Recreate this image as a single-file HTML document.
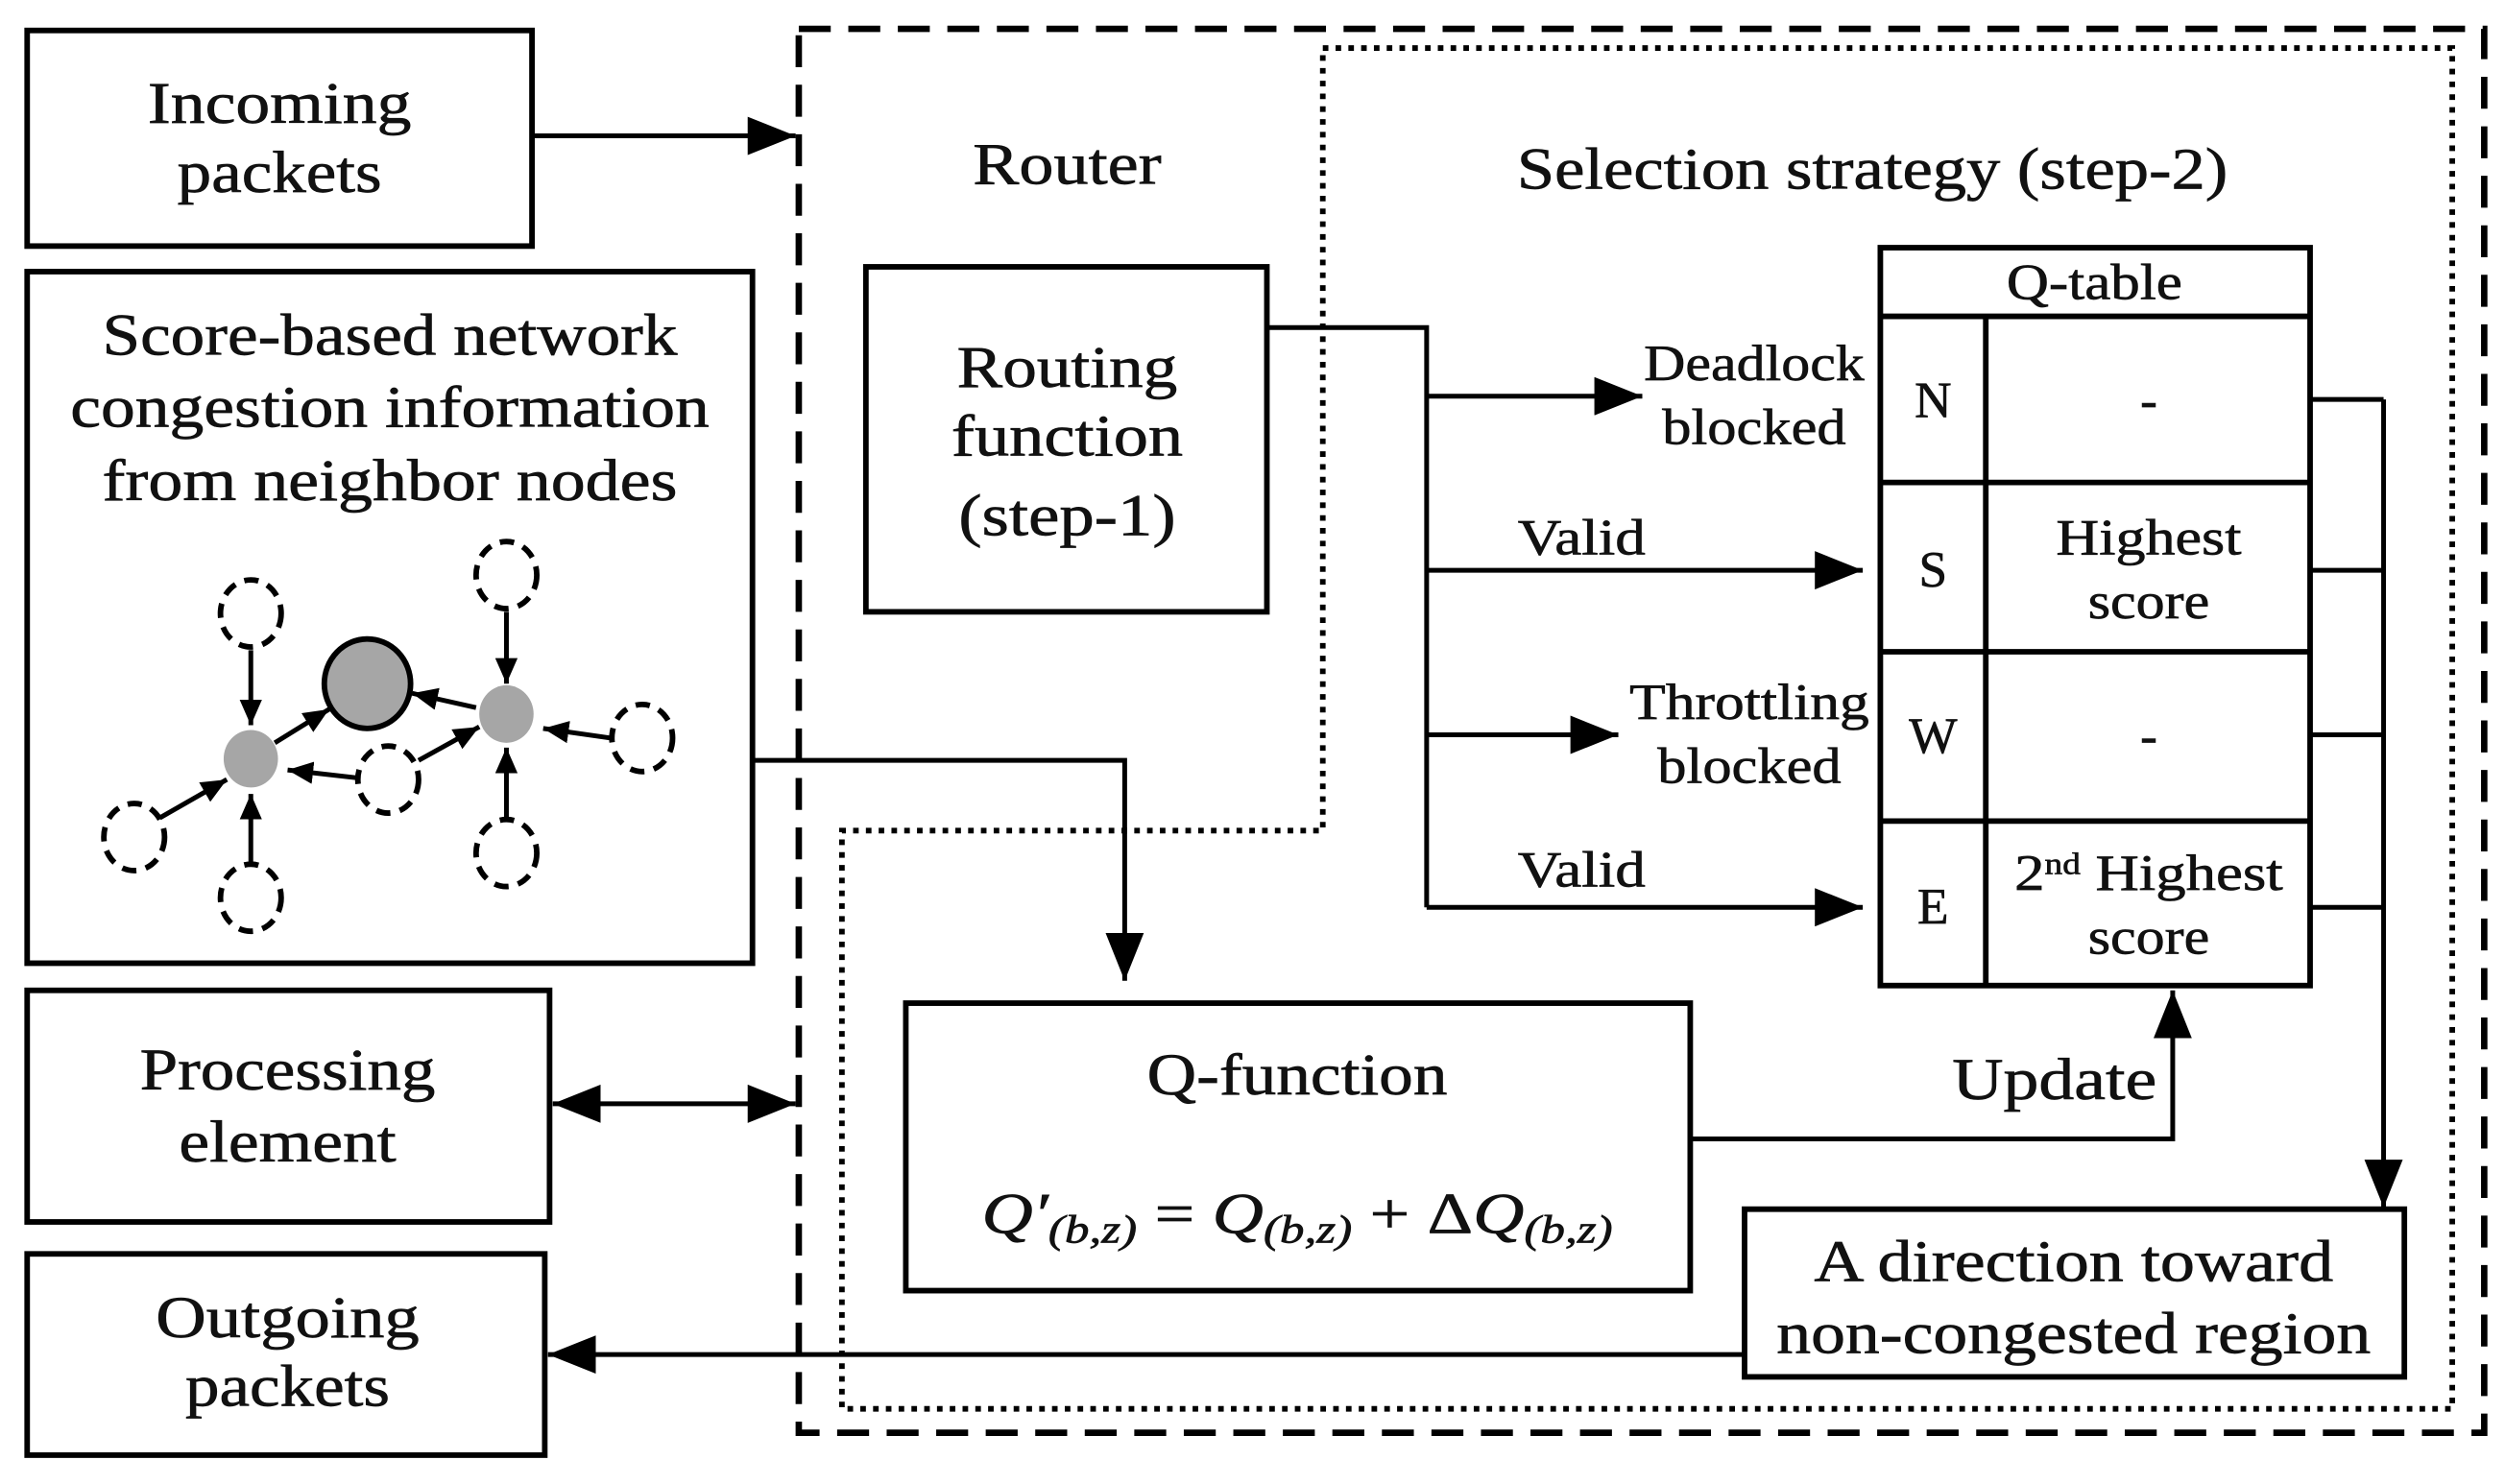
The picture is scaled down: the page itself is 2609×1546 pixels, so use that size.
<!DOCTYPE html>
<html><head><meta charset="utf-8"><style>
html,body{margin:0;padding:0;background:#fff;}
svg{display:block;}
text{font-family:"Liberation Serif",serif;fill:#111;stroke:#111;stroke-width:0.4;}
</style></head><body>
<svg width="2609" height="1546" viewBox="0 0 1568 929" xmlns="http://www.w3.org/2000/svg">
<defs>
<marker id="A" markerWidth="30" markerHeight="24" refX="30" refY="12" orient="auto-start-reverse" markerUnits="userSpaceOnUse">
<path d="M0,0 L30,12 L0,24 z" fill="#000"/></marker>
<marker id="s" markerWidth="16" markerHeight="14" refX="16" refY="7" orient="auto" markerUnits="userSpaceOnUse">
<path d="M0,0 L16,7 L0,14 z" fill="#000"/></marker>
</defs>
<g fill="none" stroke="#000">
<rect x="500" y="18" width="1055" height="879" stroke-width="4" stroke-dasharray="20,11"/>
<path d="M828,30 H1535 V882 H527 V520 H828 Z" stroke-width="3.5" stroke-dasharray="3.5,4.5"/>
<g stroke-width="3.5">
<rect x="17" y="19" width="316" height="135"/>
<rect x="17" y="170" width="454" height="433"/>
<rect x="17" y="620" width="327" height="145"/>
<rect x="17" y="785" width="324" height="126"/>
<rect x="542" y="167" width="251" height="216"/>
<rect x="567" y="628" width="491" height="180"/>
<rect x="1092" y="757" width="413" height="105"/>
<rect x="1177" y="155" width="269" height="462"/>
<path d="M1177,198 H1446 M1177,302 H1446 M1177,408 H1446 M1177,514 H1446 M1243,198 V617"/>
</g>
<g stroke-width="3">
<path d="M333,85 H498" marker-end="url(#A)"/>
<path d="M471,476 H704 V614" marker-end="url(#A)"/>
<path d="M346,691 H498" marker-start="url(#A)" marker-end="url(#A)"/>
<path d="M1092,848 H343" marker-end="url(#A)"/>
<path d="M1058,713 H1360 V620" marker-end="url(#A)"/>
<path d="M793,205 H893 V568"/>
<path d="M893,248 H1028" marker-end="url(#A)"/>
<path d="M893,357 H1166" marker-end="url(#A)"/>
<path d="M893,460 H1013" marker-end="url(#A)"/>
<path d="M893,568 H1166" marker-end="url(#A)"/>
<path d="M1446,250 H1492 M1446,357 H1492 M1446,460 H1492 M1446,568 H1492"/>
<path d="M1492,250 V756" marker-end="url(#A)"/>
</g>
<g stroke-width="3.5" stroke-dasharray="9,6">
<ellipse cx="157" cy="384" rx="19" ry="21"/>
<ellipse cx="317" cy="360" rx="19" ry="21"/>
<ellipse cx="402" cy="462" rx="19" ry="21"/>
<ellipse cx="317" cy="534" rx="19" ry="21"/>
<ellipse cx="243" cy="488" rx="19" ry="21"/>
<ellipse cx="84" cy="524" rx="19" ry="21"/>
<ellipse cx="157" cy="562" rx="19" ry="21"/>
</g>
<ellipse cx="230" cy="428" rx="27" ry="28" fill="#a6a6a6" stroke-width="3.5"/>
<ellipse cx="157" cy="475" rx="17" ry="18" fill="#a6a6a6" stroke="none"/>
<ellipse cx="317" cy="447" rx="17" ry="18" fill="#a6a6a6" stroke="none"/>
<g stroke-width="3">
<path d="M157,407 V454" marker-end="url(#s)"/>
<path d="M317,383 V428" marker-end="url(#s)"/>
<path d="M382,462 L340,456" marker-end="url(#s)"/>
<path d="M317,512 V468" marker-end="url(#s)"/>
<path d="M157,540 V497" marker-end="url(#s)"/>
<path d="M100,512 L142,488" marker-end="url(#s)"/>
<path d="M224,487 L180,482" marker-end="url(#s)"/>
<path d="M262,476 L300,455" marker-end="url(#s)"/>
<path d="M172,465 L206,444" marker-end="url(#s)"/>
<path d="M298,443 L258,434" marker-end="url(#s)"/>
</g>
</g>
<g font-size="37" text-anchor="middle">
<text x="175" y="77" textLength="165" lengthAdjust="spacingAndGlyphs">Incoming</text>
<text x="175" y="120" textLength="128" lengthAdjust="spacingAndGlyphs">packets</text>
<text x="244" y="222" textLength="360" lengthAdjust="spacingAndGlyphs">Score-based network</text>
<text x="244" y="267" textLength="400" lengthAdjust="spacingAndGlyphs">congestion information</text>
<text x="244" y="313" textLength="360" lengthAdjust="spacingAndGlyphs">from neighbor nodes</text>
<text x="180" y="682" textLength="185" lengthAdjust="spacingAndGlyphs">Processing</text>
<text x="180" y="727" textLength="136" lengthAdjust="spacingAndGlyphs">element</text>
<text x="180" y="837" textLength="165" lengthAdjust="spacingAndGlyphs">Outgoing</text>
<text x="180" y="880" textLength="128" lengthAdjust="spacingAndGlyphs">packets</text>
<text x="668" y="115" textLength="118" lengthAdjust="spacingAndGlyphs">Router</text>
<text x="1172" y="118" textLength="445" lengthAdjust="spacingAndGlyphs">Selection strategy (step-2)</text>
<text x="668" y="242" textLength="138" lengthAdjust="spacingAndGlyphs">Routing</text>
<text x="668" y="285" textLength="145" lengthAdjust="spacingAndGlyphs">function</text>
<text x="668" y="335" textLength="136" lengthAdjust="spacingAndGlyphs">(step-1)</text>
<text x="812" y="685" textLength="188" lengthAdjust="spacingAndGlyphs">Q-function</text>
<text x="1298" y="802" textLength="325" lengthAdjust="spacingAndGlyphs">A direction toward</text>
<text x="1298" y="847" textLength="372" lengthAdjust="spacingAndGlyphs">non-congested region</text>
</g>
<text x="1350" y="688" font-size="37" text-anchor="end" textLength="128" lengthAdjust="spacingAndGlyphs">Update</text>
<text x="812" y="772" font-size="36" text-anchor="middle" font-style="italic" textLength="395" lengthAdjust="spacingAndGlyphs">Q′<tspan font-size="25" dy="6">(b,z)</tspan><tspan dy="-6" font-style="normal"> = </tspan>Q<tspan font-size="25" dy="6">(b,z)</tspan><tspan dy="-6" font-style="normal"> + Δ</tspan>Q<tspan font-size="25" dy="6">(b,z)</tspan></text>
<g font-size="32" text-anchor="middle">
<text x="1311" y="187" textLength="110" lengthAdjust="spacingAndGlyphs">Q-table</text>
<text x="1210" y="261">N</text>
<text x="1210" y="367">S</text>
<text x="1210" y="471">W</text>
<text x="1210" y="578">E</text>
<text x="1345" y="261">-</text>
<text x="1345" y="347" textLength="116" lengthAdjust="spacingAndGlyphs">Highest</text>
<text x="1345" y="387" textLength="76" lengthAdjust="spacingAndGlyphs">score</text>
<text x="1345" y="471">-</text>
<text x="1345" y="557" textLength="168" lengthAdjust="spacingAndGlyphs">2<tspan font-size="19" dy="-10">nd</tspan><tspan dy="10"> Highest</tspan></text>
<text x="1345" y="597" textLength="76" lengthAdjust="spacingAndGlyphs">score</text>
<text x="1098" y="238" textLength="138" lengthAdjust="spacingAndGlyphs">Deadlock</text>
<text x="1098" y="278" textLength="115" lengthAdjust="spacingAndGlyphs">blocked</text>
<text x="1095" y="450" textLength="150" lengthAdjust="spacingAndGlyphs">Throttling</text>
<text x="1095" y="490" textLength="115" lengthAdjust="spacingAndGlyphs">blocked</text>
<text x="990" y="347" textLength="80" lengthAdjust="spacingAndGlyphs">Valid</text>
<text x="990" y="555" textLength="80" lengthAdjust="spacingAndGlyphs">Valid</text>
</g>
</svg>
</body></html>
